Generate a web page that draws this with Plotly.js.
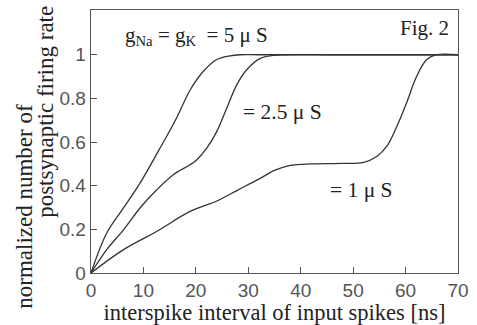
<!DOCTYPE html>
<html>
<head>
<meta charset="utf-8">
<script src="https://cdn.plot.ly/plotly-3.0.1.min.js"></script>
<style>html,body{margin:0;padding:0;background:#fff;}#chart{width:477px;height:325px;}</style>
</head>
<body>
<div id="chart"></div>
<script>
// interspike interval [ns] and normalized firing rate for each conductance
const x5 = [0, 3, 6.2, 9.35, 13, 16, 19, 21.4, 23.9, 26.5, 28.4, 32, 40, 50, 60, 70];
const y5 = [0, 0.183, 0.298, 0.412, 0.565, 0.695, 0.842, 0.923, 0.977, 0.995, 1.0, 1.0, 1.0, 1.0, 1.0, 1.0];

const x25 = [0, 3, 6.2, 9.35, 12.5, 15.7, 18.9, 20.2, 22.1, 24, 25.9, 27.8, 29.7, 32.2, 34.8, 37, 45, 55, 70];
const y25 = [0, 0.107, 0.198, 0.298, 0.38, 0.45, 0.496, 0.519, 0.573, 0.649, 0.756, 0.862, 0.931, 0.982, 0.997, 1.0, 1.0, 1.0, 1.0];

const x1 = [0, 6.2, 12.5, 18.9, 24, 28, 32, 35, 38, 42, 48, 52, 54.5, 56.4, 58.3, 60.2, 62.1, 64, 65.9, 70];
const y1 = [0, 0.107, 0.19, 0.282, 0.33, 0.38, 0.43, 0.47, 0.493, 0.5, 0.502, 0.507, 0.534, 0.58, 0.67, 0.78, 0.90, 0.977, 1.0, 1.0];

const xTicks = [0, 10, 20, 30, 40, 50, 60, 70];
const yTicks = [0, 0.2, 0.4, 0.6, 0.8, 1];
const yTickText = ['0', '0.2', '0.4', '0.6', '0.8', '1'];

const lineStyle = {color: '#333', width: 1.3, shape: 'spline', smoothing: 1};
const traces = [
  {x: x5, y: y5, mode: 'lines', line: lineStyle, hoverinfo: 'skip'},
  {x: x25, y: y25, mode: 'lines', line: lineStyle, hoverinfo: 'skip'},
  {x: x1, y: y1, mode: 'lines', line: lineStyle, hoverinfo: 'skip'}
];

const serif = 'Liberation Serif';
const sans = 'Liberation Sans';

const layout = {
  width: 477, height: 325,
  margin: {l: 91, r: 19, t: 10, b: 52, pad: 0},
  paper_bgcolor: '#fff', plot_bgcolor: '#fff',
  showlegend: false,
  xaxis: {
    range: [0, 70], tickvals: xTicks, ticks: 'inside', ticklen: 6, tickcolor: '#555', tickwidth: 1,
    showline: true, linecolor: '#555', linewidth: 1.3, mirror: true, showgrid: false, zeroline: false,
    tickfont: {family: sans, size: 19, color: '#555'},
    title: {text: 'interspike interval of input spikes [ns]', font: {family: serif, size: 22.5, color: '#222'}, standoff: 3}
  },
  yaxis: {
    range: [0, 1.205], tickvals: yTicks, ticktext: yTickText, ticks: 'inside', ticklen: 6, tickcolor: '#555', tickwidth: 1,
    showline: true, linecolor: '#555', linewidth: 1.3, mirror: true, showgrid: false, zeroline: false,
    tickfont: {family: sans, size: 19, color: '#555'}
  },
  annotations: [
    {xref: 'paper', yref: 'paper', x: (25 - 91) / 366.7, y: (273.3 - 206) / 263.3, text: 'normalized number of', textangle: -90, showarrow: false,
     font: {family: serif, size: 23, color: '#222'}, xanchor: 'center', yanchor: 'middle'},
    {xref: 'paper', yref: 'paper', x: (46 - 91) / 366.7, y: (273.3 - 112) / 263.3, text: 'postsynaptic firing rate', textangle: -90, showarrow: false,
     font: {family: serif, size: 23, color: '#222'}, xanchor: 'center', yanchor: 'middle'},
    {xref: 'paper', yref: 'paper', x: (424 - 91) / 366.7, y: (273.3 - 28) / 263.3, text: 'Fig. 2', showarrow: false,
     font: {family: serif, size: 21, color: '#222'}, xanchor: 'center', yanchor: 'middle'},
    {xref: 'paper', yref: 'paper', x: (196 - 91) / 366.7, y: (273.3 - 36) / 263.3, text: 'g<sub>Na</sub> = g<sub>K</sub>  = 5 μ S', showarrow: false,
     font: {family: serif, size: 21, color: '#222'}, xanchor: 'center', yanchor: 'middle'},
    {xref: 'paper', yref: 'paper', x: (282 - 91) / 366.7, y: (273.3 - 112) / 263.3, text: '= 2.5 μ S', showarrow: false,
     font: {family: serif, size: 21.5, color: '#222'}, xanchor: 'center', yanchor: 'middle'},
    {xref: 'paper', yref: 'paper', x: (361 - 91) / 366.7, y: (273.3 - 190) / 263.3, text: '= 1 μ S', showarrow: false,
     font: {family: serif, size: 21.5, color: '#222'}, xanchor: 'center', yanchor: 'middle'}
  ]
};

Plotly.newPlot('chart', traces, layout, {staticPlot: true, displayModeBar: false});
</script>
</body>
</html>
